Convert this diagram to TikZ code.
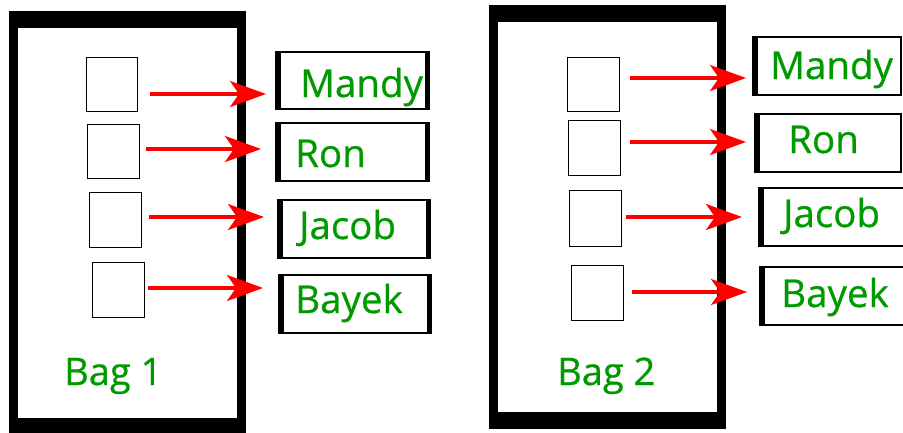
\documentclass[tikz,border=0pt]{standalone}
\usepackage{fontspec}
\setmainfont{Open Sans}
\newfontfamily\labelfont[FakeBold=0.6]{Open Sans}
\usetikzlibrary{arrows.meta,fit}

\definecolor{labelgreen}{RGB}{0,153,0}
\definecolor{linkred}{RGB}{255,0,0}

\tikzset{
  % thick black frame of a bag: 9pt sides, 17pt top and bottom
  bagframe/.style={fit={#1}, inner sep=0pt, fill=black,
    path picture={\fill[white]
      ([shift={(9pt,-17pt)}]path picture bounding box.north west) rectangle
      ([shift={(-9pt,17pt)}]path picture bounding box.south east);}},
  % empty slot inside a bag
  slot/.style={fit={#1}, inner sep=0pt, draw=black, line width=1.4pt},
  % box holding a name, heavier bar on its left side
  namebox/.style={fit={#1}, inner sep=0pt, draw=black, line width=2pt,
    path picture={\fill[black]
      (path picture bounding box.north west) rectangle
      ([xshift=5pt]path picture bounding box.south west);}},
  % same box with a heavier bar on the right side as well
  nameboxlr/.style={namebox={#1},
    path picture={\fill[black]
      (path picture bounding box.north west) rectangle
      ([xshift=5pt]path picture bounding box.south west);
      \fill[black]
      ([xshift=-4pt]path picture bounding box.north east) rectangle
      (path picture bounding box.south east);}},
  nametext/.style={anchor=base west, inner sep=0pt, text=labelgreen,
    font=\labelfont\fontsize{38.5}{46}\selectfont},
  bagtext/.style={anchor=base west, inner sep=0pt, text=labelgreen,
    font=\labelfont\fontsize{38}{46}\selectfont},
  link/.style={draw=linkred, line width=3.3pt,
    -{Stealth[length=36pt, width=26pt, inset=9pt]}},
}

\begin{document}
\begin{tikzpicture}[x=1pt, y=-1pt]
  \useasboundingbox (0,0) rectangle (903,432);
  \clip (0,0) rectangle (903,432);

  % ---------------- Bag 1 ----------------
  \node (bag1) [bagframe={(9,11) (246,435)}] {};
  \node (bag1label) [bagtext] at (64,385) {Bag 1};

  \node (s11) [slot={(86.7,57.7) (137.3,111.3)}] {};
  \node (s12) [slot={(87.7,124.7) (139.3,178.3)}] {};
  \node (s13) [slot={(89.7,192.7) (141.3,247.3)}] {};
  \node (s14) [slot={(92.7,262.7) (144.3,317.3)}] {};

  \node (n11) [nameboxlr={(276,52) (429,109)}] {};
  \node (n12) [nameboxlr={(276,123) (429,181)}] {};
  \node (n13) [nameboxlr={(278,200) (430,258)}] {};
  \node (n14) [nameboxlr={(279,275) (431,333)}] {};

  \node (t11) [nametext] at (300,97) {Mandy};
  \node (t12) [nametext] at (295,167) {Ron};
  \node (t13) [nametext] at (299,239) {Jacob};
  \node (t14) [nametext] at (295,313) {Bayek};

  \coordinate (a11) at (150,94);
  \coordinate (a12) at (146,149);
  \coordinate (a13) at (149,217);
  \coordinate (a14) at (148,288);
  \draw[link, shorten >=9pt]  (a11) -- (a11 -| n11.west);
  \draw[link, shorten >=14pt] (a12) -- (a12 -| n12.west);
  \draw[link, shorten >=13pt] (a13) -- (a13 -| n13.west);
  \draw[link, shorten >=15pt] (a14) -- (a14 -| n14.west);

  % ---------------- Bag 2 ----------------
  \node (bag2) [bagframe={(489,5) (726,429)}] {};
  \node (bag2label) [bagtext] at (557,385) {Bag 2};

  \node (s21) [slot={(567.7,57.7) (619.3,111.3)}] {};
  \node (s22) [slot={(568.7,120.7) (620.3,175.3)}] {};
  \node (s23) [slot={(569.7,190.7) (621.3,246.3)}] {};
  \node (s24) [slot={(571.7,265.7) (623.3,320.3)}] {};

  \node (n21) [namebox={(753,37) (901,95)}] {};
  \node (n22) [namebox={(755,114) (901,172)}] {};
  \node (n23) [namebox={(759,188) (912,246)}] {};
  \node (n24) [namebox={(760,267) (912,325)}] {};

  \node (t21) [nametext] at (770,79) {Mandy};
  \node (t22) [nametext] at (788,153) {Ron};
  \node (t23) [nametext] at (783,227) {Jacob};
  \node (t24) [nametext] at (781,307) {Bayek};

  \coordinate (a21) at (630,78);
  \coordinate (a22) at (630,142);
  \coordinate (a23) at (626,217);
  \coordinate (a24) at (632,292);
  \draw[link, shorten >=6pt]  (a21) -- (a21 -| n21.west);
  \draw[link, shorten >=8pt]  (a22) -- (a22 -| n22.west);
  \draw[link, shorten >=16pt] (a23) -- (a23 -| n23.west);
  \draw[link, shorten >=12pt] (a24) -- (a24 -| n24.west);
\end{tikzpicture}
\end{document}
